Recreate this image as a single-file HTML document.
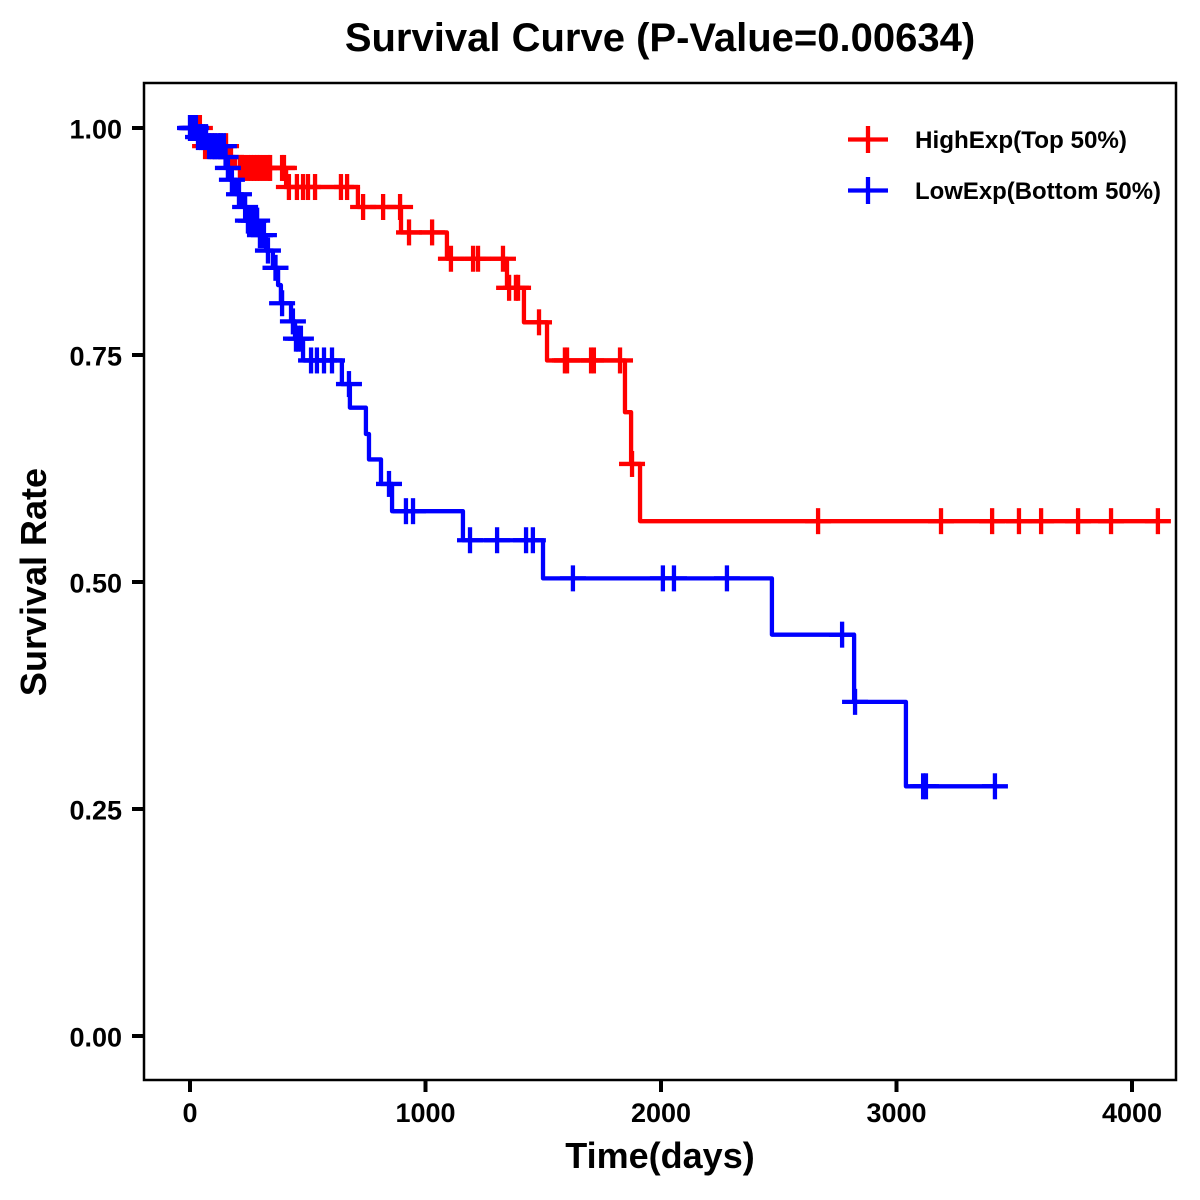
<!DOCTYPE html>
<html lang="en">
<head>
<meta charset="utf-8">
<title>Survival Curve</title>
<style>
html,body{margin:0;padding:0;background:#fff;width:1200px;height:1200px;overflow:hidden}
svg{display:block}
text{font-family:"Liberation Sans",Arial,sans-serif;font-weight:bold;fill:#000}
</style>
</head>
<body>
<svg id="chart" xmlns="http://www.w3.org/2000/svg" width="1200" height="1200" viewBox="0 0 1200 1200">
  <rect x="0" y="0" width="1200" height="1200" fill="#fff"/>
  <text x="660" y="51" font-size="40" text-anchor="middle">Survival Curve (P-Value=0.00634)</text>
  <g id="series"></g>
  <rect x="144" y="83" width="1032" height="997" fill="none" stroke="#000" stroke-width="2.5"/>
  <g id="axes"></g>
  <text x="660" y="1168" font-size="36" text-anchor="middle">Time(days)</text>
  <text transform="translate(46,582) rotate(-90)" font-size="36" text-anchor="middle">Survival Rate</text>
  <g id="legend">
    <g>
      <line x1="848" x2="888" y1="139.5" y2="139.5" stroke="#ff0000" stroke-width="4.3"/>
      <line x1="868" x2="868" y1="126" y2="153" stroke="#ff0000" stroke-width="4.3"/>
      <text x="915" y="148" font-size="23.6" textLength="212" lengthAdjust="spacingAndGlyphs">HighExp(Top 50%)</text>
    </g>
    <g>
      <line x1="848" x2="888" y1="190.5" y2="190.5" stroke="#0000ff" stroke-width="4.3"/>
      <line x1="868" x2="868" y1="177" y2="204" stroke="#0000ff" stroke-width="4.3"/>
      <text x="915" y="199" font-size="23.6" textLength="246" lengthAdjust="spacingAndGlyphs">LowExp(Bottom 50%)</text>
    </g>
  </g>
</svg>
<script>
const xTicks = [0, 1000, 2000, 3000, 4000];
const yTicks = [0, 0.25, 0.5, 0.75, 1];
const yTickLabels = ["0.00", "0.25", "0.50", "0.75", "1.00"];

const highStepTimes = [0, 47, 59, 161, 191, 408, 713, 896, 1091, 1346, 1418, 1516, 1847, 1873, 1911];
const highStepSurvival = [1, 0.990, 0.980, 0.968, 0.956, 0.935, 0.913, 0.885, 0.856, 0.824, 0.786, 0.744, 0.687, 0.630, 0.567];
const highCensorTimes = [8, 25, 42, 64, 85, 102, 127, 153, 174, 212, 229, 246, 259, 272, 285, 297, 314, 331, 340, 391, 399, 420, 454, 480, 501, 531, 641, 667, 735, 820, 892, 930, 1028, 1108, 1202, 1223, 1329, 1355, 1384, 1393, 1482, 1592, 1601, 1703, 1715, 1826, 1877, 2667, 3189, 3406, 3520, 3614, 3771, 3911, 4110];

const lowStepTimes = [0, 30, 72, 149, 157, 170, 195, 225, 242, 289, 323, 352, 374, 386, 429, 446, 480, 645, 679, 747, 760, 811, 858, 1159, 1499, 2471, 2820, 3040];
const lowStepSurvival = [1, 0.990, 0.980, 0.968, 0.956, 0.943, 0.927, 0.913, 0.898, 0.882, 0.865, 0.846, 0.827, 0.807, 0.787, 0.768, 0.744, 0.718, 0.692, 0.663, 0.635, 0.608, 0.578, 0.546, 0.504, 0.442, 0.368, 0.275];
const lowCensorTimes = [0, 5, 10, 15, 20, 25, 34, 47, 55, 68, 81, 93, 106, 119, 132, 144, 151, 161, 178, 208, 234, 246, 259, 272, 285, 297, 314, 331, 363, 391, 437, 450, 459, 471, 514, 539, 569, 603, 675, 845, 917, 947, 1189, 1304, 1427, 1456, 1626, 2008, 2055, 2280, 2769, 2824, 3113, 3125, 3418];

const NS = "http://www.w3.org/2000/svg";
function xScale(t) { return 190 + t * 0.2355; }
function yScale(s) { return 1036 - s * 908; }
function survivalAt(times, surv, t) {
  let value = surv[0];
  for (let i = 0; i < times.length; i++) {
    if (times[i] <= t) value = surv[i];
  }
  return value;
}
function makeLine(x1, y1, x2, y2, color, width) {
  const el = document.createElementNS(NS, "line");
  el.setAttribute("x1", x1);
  el.setAttribute("y1", y1);
  el.setAttribute("x2", x2);
  el.setAttribute("y2", y2);
  el.setAttribute("stroke", color);
  el.setAttribute("stroke-width", width);
  return el;
}
function drawSeries(times, surv, censors, color, key) {
  const root = document.getElementById("series");
  const group = document.createElementNS(NS, "g");
  
  
  const lastT = Math.max(censors[censors.length - 1], times[times.length - 1]);
  let d = "M" + xScale(times[0]) + " " + yScale(surv[0]);
  for (let i = 1; i < times.length; i++) {
    d += " H" + xScale(times[i]) + " V" + yScale(surv[i]);
  }
  d += " H" + xScale(lastT);
  const path = document.createElementNS(NS, "path");
  path.setAttribute("d", d);
  path.setAttribute("fill", "none");
  path.setAttribute("stroke", color);
  path.setAttribute("stroke-width", "4.3");
  path.setAttribute("stroke-linejoin", "round");
  
  
  group.appendChild(path);
  censors.forEach(function (t) {
    const cx = xScale(t);
    const cy = yScale(survivalAt(times, surv, t));
    const mark = document.createElementNS(NS, "g");
    
    
    mark.appendChild(makeLine(cx - 13, cy, cx + 13, cy, color, 4.3));
    mark.appendChild(makeLine(cx, cy - 13, cx, cy + 13, color, 4.3));
    group.appendChild(mark);
  });
  root.appendChild(group);
}
function drawAxes() {
  const root = document.getElementById("axes");
  xTicks.forEach(function (t) {
    const x = xScale(t);
    const tick = makeLine(x, 1080, x, 1092, "#000", 4);
    
    
    root.appendChild(tick);
    const label = document.createElementNS(NS, "text");
    label.setAttribute("x", x);
    label.setAttribute("y", 1122);
    label.setAttribute("font-size", "27");
    label.setAttribute("text-anchor", "middle");
    
    
    label.textContent = String(t);
    root.appendChild(label);
  });
  yTicks.forEach(function (s, i) {
    const y = yScale(s);
    const tick = makeLine(132, y, 144, y, "#000", 4);
    
    
    root.appendChild(tick);
    const label = document.createElementNS(NS, "text");
    label.setAttribute("x", 122);
    label.setAttribute("y", y + 10.5);
    label.setAttribute("font-size", "27");
    label.setAttribute("text-anchor", "end");
    
    
    label.textContent = yTickLabels[i];
    root.appendChild(label);
  });
}
drawSeries(highStepTimes, highStepSurvival, highCensorTimes, "#ff0000", "high-exp");
drawSeries(lowStepTimes, lowStepSurvival, lowCensorTimes, "#0000ff", "low-exp");
drawAxes();
</script>
</body>
</html>
